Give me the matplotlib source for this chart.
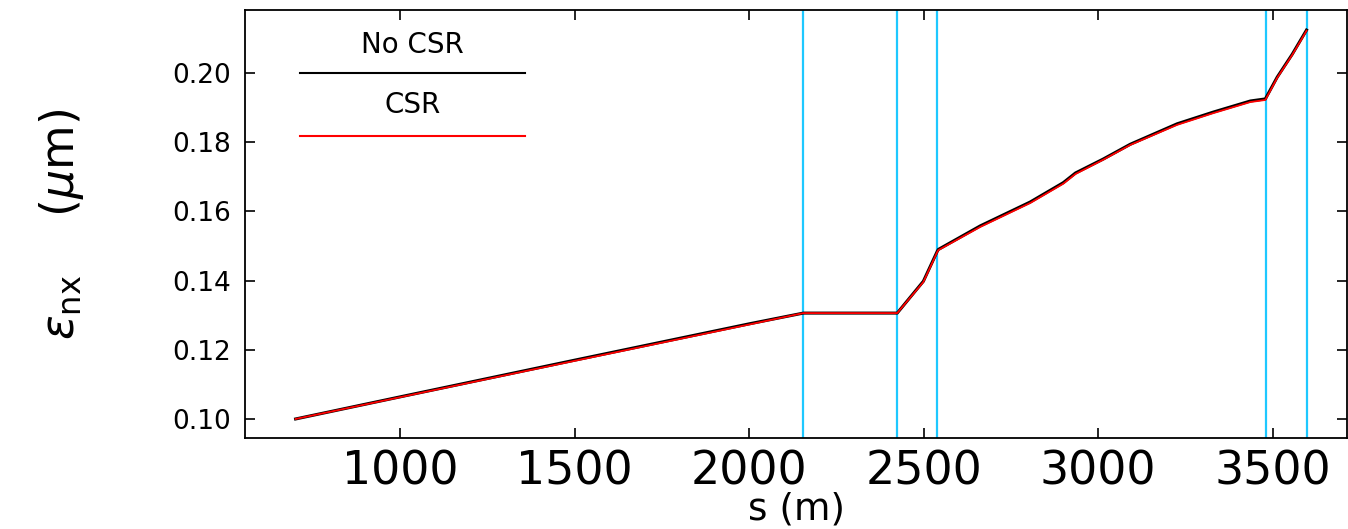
import matplotlib
matplotlib.use("Agg")
import matplotlib.pyplot as plt

# Data
s_csr = [700, 1000, 1500, 2000, 2155, 2424, 2499, 2539,
         2542, 2662, 2805, 2900, 2935, 3014, 3092, 3226, 3330, 3436, 3479,
         3513, 3556, 3597]
emit_csr = [0.1000, 0.1063, 0.1168, 0.1273, 0.1306, 0.1306, 0.1396, 0.1483,
            0.1488, 0.1555, 0.1624, 0.1680, 0.1708, 0.1749, 0.1792, 0.1850, 0.1884, 0.1916, 0.1922,
            0.1986, 0.2052, 0.2122]
s_nocsr = s_csr
emit_nocsr = [0.1000, 0.1064, 0.1170, 0.1275, 0.1306, 0.1306, 0.1398, 0.1485,
              0.1490, 0.1558, 0.1627, 0.1683, 0.1711, 0.1751, 0.1794, 0.1853, 0.1887, 0.1919, 0.1925,
              0.1988, 0.2054, 0.2124]
markers_s = [2155, 2424, 2539, 3481, 3599]
xticks = [1000, 1500, 2000, 2500, 3000, 3500]
yticks = [0.10, 0.12, 0.14, 0.16, 0.18, 0.20]
ytick_labels = ["0.10", "0.12", "0.14", "0.16", "0.18", "0.20"]
legend_labels = ["No CSR", "CSR"]

fig = plt.figure(figsize=(13.48, 5.29), dpi=100)
ax = fig.add_axes([245/1348, (529-438)/529, 1102/1348, 428/529])

for xv in markers_s:
    ax.axvline(xv, color="#1ec8ff", lw=1.6, zorder=1)

ax.plot(s_nocsr, emit_nocsr, color="black", lw=2.2, zorder=2)
ax.plot(s_csr, emit_csr, color="red", lw=1.3, zorder=3)

ax.set_xlim(555, 3713)
ax.set_ylim(0.0945, 0.2182)
ax.set_xticks(xticks)
ax.set_xticklabels([str(v) for v in xticks])
ax.set_yticks(yticks)
ax.set_yticklabels(ytick_labels)
ax.tick_params(axis="x", direction="in", top=True, length=7, width=1.2,
               labelsize=33, pad=8)
ax.tick_params(axis="y", direction="in", right=True, length=7, width=1.2,
               labelsize=19, pad=10)
for sp in ax.spines.values():
    sp.set_linewidth(1.3)

ax.set_xlabel("s (m)", fontsize=27, labelpad=-2)
ax.set_ylabel(r"$\varepsilon_{\rm nx}$    ($\mu$m)", fontsize=33, labelpad=62)

# legend drawn manually
ax.text(0.152, 0.918, legend_labels[0], transform=ax.transAxes, ha="center",
        va="center", fontsize=20)
ax.plot([0.050, 0.254], [0.853, 0.853], transform=ax.transAxes, color="black", lw=1.5)
ax.text(0.152, 0.778, legend_labels[1], transform=ax.transAxes, ha="center",
        va="center", fontsize=20)
ax.plot([0.050, 0.254], [0.706, 0.706], transform=ax.transAxes, color="red", lw=1.5)

fig.savefig("out.png", dpi=100)
